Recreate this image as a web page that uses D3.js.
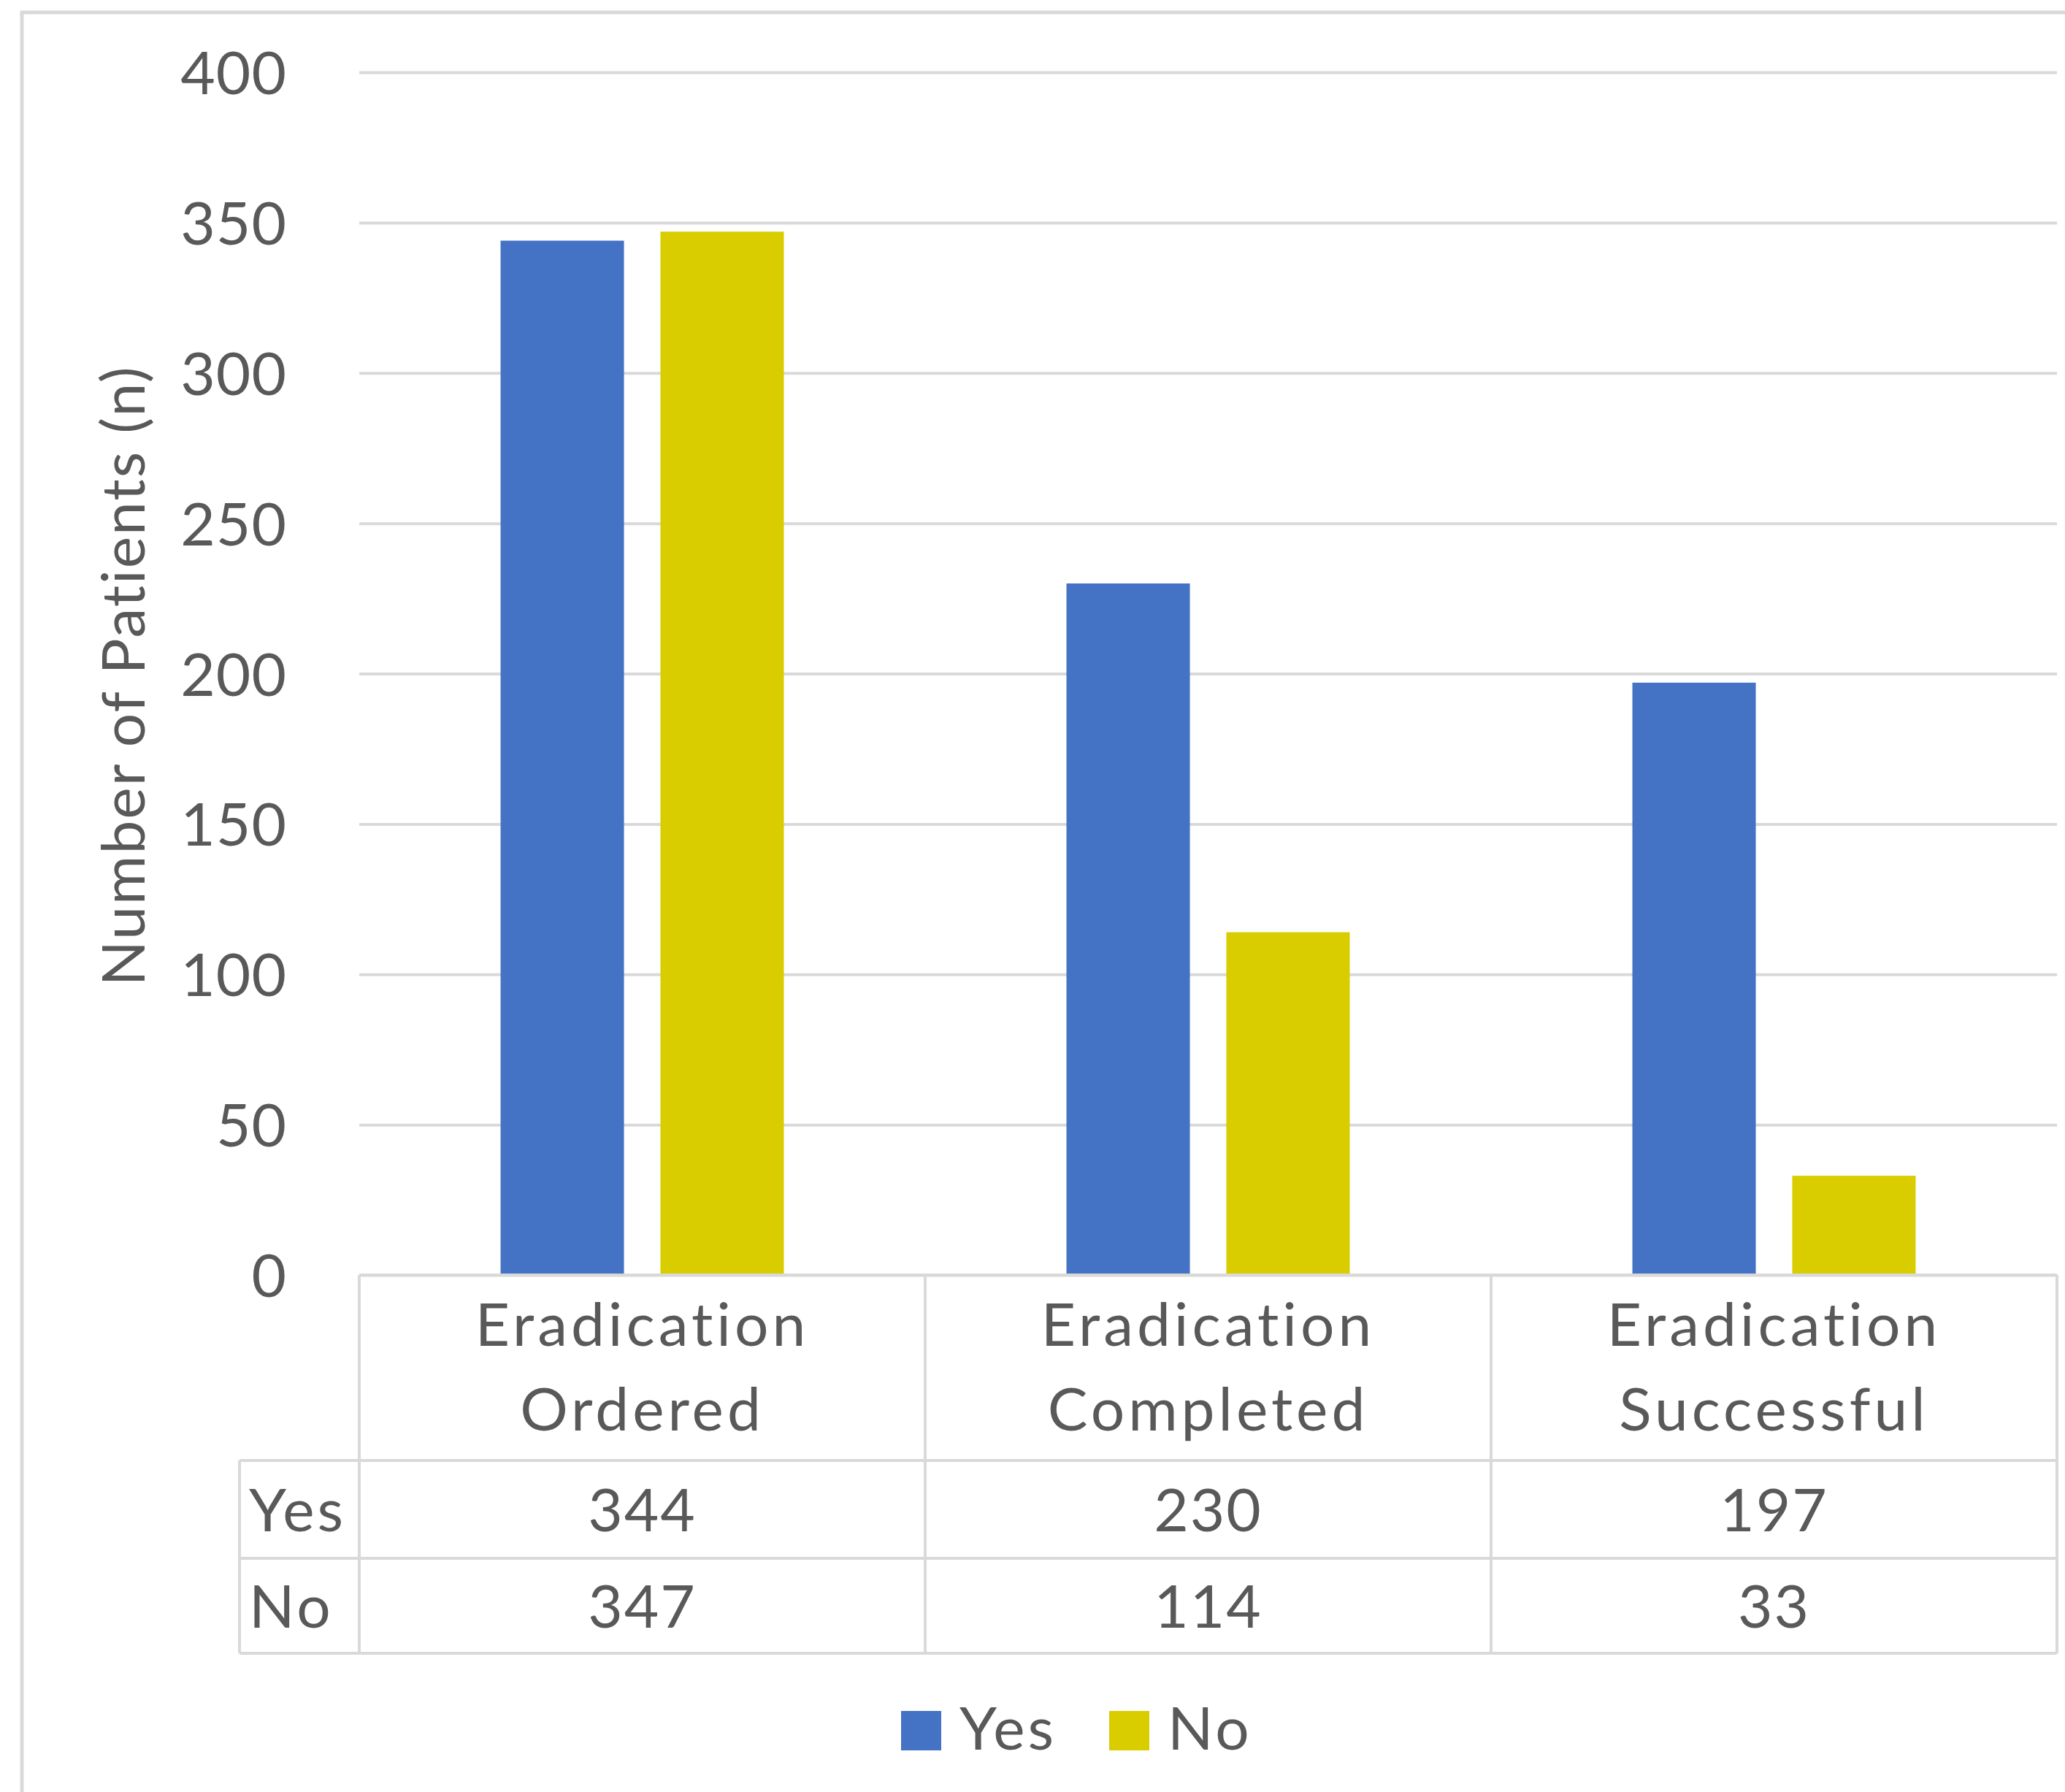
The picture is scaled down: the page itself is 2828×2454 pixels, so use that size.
<!DOCTYPE html>
<html lang="en">
<head>
<meta charset="UTF-8" />
<title>Eradication chart</title>
<script src="https://d3js.org/d3.v7.js"></script>
<style>
  body { margin: 0; background: #fff; }
  text { font-family: Lato, "Open Sans", sans-serif; fill: #595959; }
</style>
</head>
<body>
<script>
    var w = 2828;
    var h = 2454;

    // data
    var categories = [["Eradication", "Ordered"], ["Eradication", "Completed"], ["Eradication", "Successful"]];
    var series = ["Yes", "No"];
    var yesValues = [344, 230, 197];
    var noValues = [347, 114, 33];
    var yTicks = [0, 50, 100, 150, 200, 250, 300, 350, 400];
    var colors = ["#4472C4", "#D9CD00"];

    var values = [yesValues, noValues];
    var gridColor = "#d9d9d9";
    var fontSize = 82;

    // layout
    var plotL = 492, plotR = 2817, plotT = 99, plotB = 1746;
    var tableL = 328;
    var rowTops = [2000, 2134, 2264];

    var svg = d3.select("body")
                .append("svg")
                .attr("width", w)
                .attr("height", h);

    // outer chart border (runs past the picture on right and bottom)
    svg.append("rect")
        .attr("x", 30).attr("y", 17)
        .attr("width", w).attr("height", h)
        .attr("fill", "none")
        .attr("stroke", gridColor)
        .attr("stroke-width", 5);

    var x0 = d3.scaleBand()
        .domain(d3.range(categories.length))
        .range([plotL, plotR]);

    var x1 = d3.scaleBand()
        .domain(series)
        .range([0, x0.bandwidth()])
        .paddingInner(0.228)
        .paddingOuter(0.884);

    var yScale = d3.scaleLinear()
        .domain([0, 400])
        .range([plotB, plotT]);

    // y axis with gridlines
    var yAxis = d3.axisLeft(yScale)
        .tickValues(yTicks)
        .tickSize(-(plotR - plotL))
        .tickPadding(99);

    var gy = svg.append("g")
        .attr("transform", "translate(" + plotL + ",0)")
        .call(yAxis);
    gy.select(".domain").remove();
    gy.selectAll(".tick line")
        .attr("stroke", gridColor)
        .attr("stroke-width", 4);
    gy.selectAll(".tick text")
        .attr("font-size", fontSize)
        .attr("fill", "#595959")
        .attr("font-family", "Lato, sans-serif")
        .attr("letter-spacing", 1)
        .attr("dy", "0.36em");

    // y title
    svg.append("text")
        .attr("transform", "translate(198," + ((plotT + plotB) / 2 + 3) + ") rotate(-90)")
        .attr("text-anchor", "middle")
        .attr("font-size", fontSize)
        .attr("letter-spacing", 2)
        .text("Number of Patients (n)");

    // bars
    series.forEach(function(s, si){
        svg.selectAll(".bar-" + s)
            .data(values[si])
            .enter()
            .append("rect")
            .attr("x", function(d, i){ return x0(i) + x1(s); })
            .attr("y", function(d){ return yScale(d); })
            .attr("width", x1.bandwidth())
            .attr("height", function(d){ return plotB - yScale(d); })
            .attr("fill", colors[si]);
    });

    // data table
    var lines = svg.append("g")
        .attr("stroke", gridColor)
        .attr("stroke-width", 4);
    lines.append("line").attr("x1", plotL).attr("x2", plotR).attr("y1", plotB).attr("y2", plotB);
    rowTops.forEach(function(y){
        lines.append("line").attr("x1", tableL).attr("x2", plotR).attr("y1", y).attr("y2", y);
    });
    lines.append("line").attr("x1", tableL).attr("x2", tableL).attr("y1", rowTops[0]).attr("y2", rowTops[2]);
    d3.range(categories.length + 1).forEach(function(i){
        var xx = i < categories.length ? x0(i) : plotR;
        lines.append("line").attr("x1", xx).attr("x2", xx).attr("y1", plotB).attr("y2", rowTops[2]);
    });

    // category labels
    categories.forEach(function(c, i){
        var t = svg.append("text")
            .attr("text-anchor", "middle")
            .attr("font-size", fontSize)
            .attr("letter-spacing", 5);
        c.forEach(function(line, li){
            t.append("tspan")
                .attr("x", x0(i) + x0.bandwidth() / 2)
                .attr("y", 1843 + li * 116)
                .text(line);
        });
    });

    // table rows
    series.forEach(function(s, si){
        var yMid = (rowTops[si] + rowTops[si + 1]) / 2;
        svg.append("text")
            .attr("x", 341)
            .attr("y", yMid)
            .attr("dy", "0.36em")
            .attr("font-size", fontSize)
            .attr("letter-spacing", 4)
            .text(s);
        svg.selectAll(".val-" + s)
            .data(values[si])
            .enter()
            .append("text")
            .attr("x", function(d, i){ return x0(i) + x0.bandwidth() / 2; })
            .attr("y", yMid)
            .attr("dy", "0.36em")
            .attr("text-anchor", "middle")
            .attr("font-size", fontSize)
            .attr("letter-spacing", 2)
            .text(function(d){ return d; });
    });

    // legend
    var legendX = [1234, 1519];
    series.forEach(function(s, si){
        svg.append("rect")
            .attr("x", legendX[si])
            .attr("y", 2343)
            .attr("width", 55)
            .attr("height", 54)
            .attr("fill", colors[si]);
        svg.append("text")
            .attr("x", legendX[si] + 80)
            .attr("y", 2366)
            .attr("dy", "0.36em")
            .attr("font-size", fontSize)
            .attr("letter-spacing", 4)
            .text(s);
    });
</script>
</body>
</html>
